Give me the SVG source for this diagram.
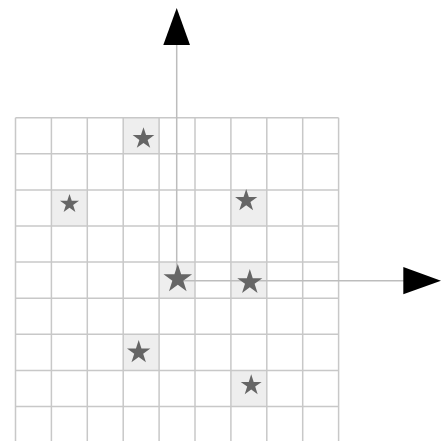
<svg xmlns="http://www.w3.org/2000/svg" width="442" height="441" viewBox="0 0 442 441">
<style>
.cell{fill:#eeeeee}
.grid line{stroke:#c8c8c8;stroke-width:1.5}
.axis{stroke:#bdbdbd;stroke-width:1.5;fill:none}
.star{fill:#666666}
.head{fill:#000000}
</style>
<defs>
<polygon id="s" points="0,-10 2.245,-3.09 9.511,-3.09 3.633,1.18 5.878,8.09 0,3.82 -5.878,8.09 -3.633,1.18 -9.511,-3.09 -2.245,-3.09"/>
</defs>
<rect width="442" height="441" fill="#ffffff"/>
<g id="cells">
<rect class="cell" x="123.2" y="117.7" width="35.9" height="36.1"/>
<rect class="cell" x="51.4" y="189.9" width="35.9" height="36.1"/>
<rect class="cell" x="230.9" y="189.9" width="35.9" height="36.1"/>
<rect class="cell" x="159.1" y="262.1" width="35.9" height="36.1"/>
<rect class="cell" x="230.9" y="262.1" width="35.9" height="36.1"/>
<rect class="cell" x="123.2" y="334.3" width="35.9" height="36.1"/>
<rect class="cell" x="230.9" y="370.4" width="35.9" height="36.1"/>
</g>
<g class="grid" id="grid">
<line x1="15.5" y1="117.7" x2="15.5" y2="441"/>
<line x1="51.4" y1="117.7" x2="51.4" y2="441"/>
<line x1="87.3" y1="117.7" x2="87.3" y2="441"/>
<line x1="123.2" y1="117.7" x2="123.2" y2="441"/>
<line x1="159.1" y1="117.7" x2="159.1" y2="441"/>
<line x1="195" y1="117.7" x2="195" y2="441"/>
<line x1="230.9" y1="117.7" x2="230.9" y2="441"/>
<line x1="266.8" y1="117.7" x2="266.8" y2="441"/>
<line x1="302.7" y1="117.7" x2="302.7" y2="441"/>
<line x1="338.6" y1="117.7" x2="338.6" y2="441"/>
<line x1="15.5" y1="117.7" x2="338.6" y2="117.7"/>
<line x1="15.5" y1="153.8" x2="338.6" y2="153.8"/>
<line x1="15.5" y1="189.9" x2="338.6" y2="189.9"/>
<line x1="15.5" y1="226" x2="338.6" y2="226"/>
<line x1="15.5" y1="262.1" x2="338.6" y2="262.1"/>
<line x1="15.5" y1="298.2" x2="338.6" y2="298.2"/>
<line x1="15.5" y1="334.3" x2="338.6" y2="334.3"/>
<line x1="15.5" y1="370.4" x2="338.6" y2="370.4"/>
<line x1="15.5" y1="406.5" x2="338.6" y2="406.5"/>
</g>
<g id="connectors">
<line class="axis" x1="176.7" y1="44" x2="176.7" y2="281"/>
<line class="axis" x1="176" y1="280.7" x2="404" y2="280.7"/>
<polygon class="head" points="176.7,8 163.3,45 190,45"/>
<polygon class="head" points="441,280.7 403.3,267 403.3,294.3"/>
</g>
<g id="star1"><use href="#s" class="star" transform="translate(143.5,138.6) scale(1.14)"/></g>
<g id="star2"><use href="#s" class="star" transform="translate(69.5,203.9) scale(1.0)"/></g>
<g id="star3"><use href="#s" class="star" transform="translate(246.2,200.7) scale(1.17)"/></g>
<g id="star4"><use href="#s" class="star" transform="translate(177.8,279) scale(1.5)"/></g>
<g id="star5"><use href="#s" class="star" transform="translate(249.8,282.3) scale(1.32)"/></g>
<g id="star6"><use href="#s" class="star" transform="translate(138.7,352.3) scale(1.23)"/></g>
<g id="star7"><use href="#s" class="star" transform="translate(251.2,385.3) scale(1.1)"/></g>
</svg>
